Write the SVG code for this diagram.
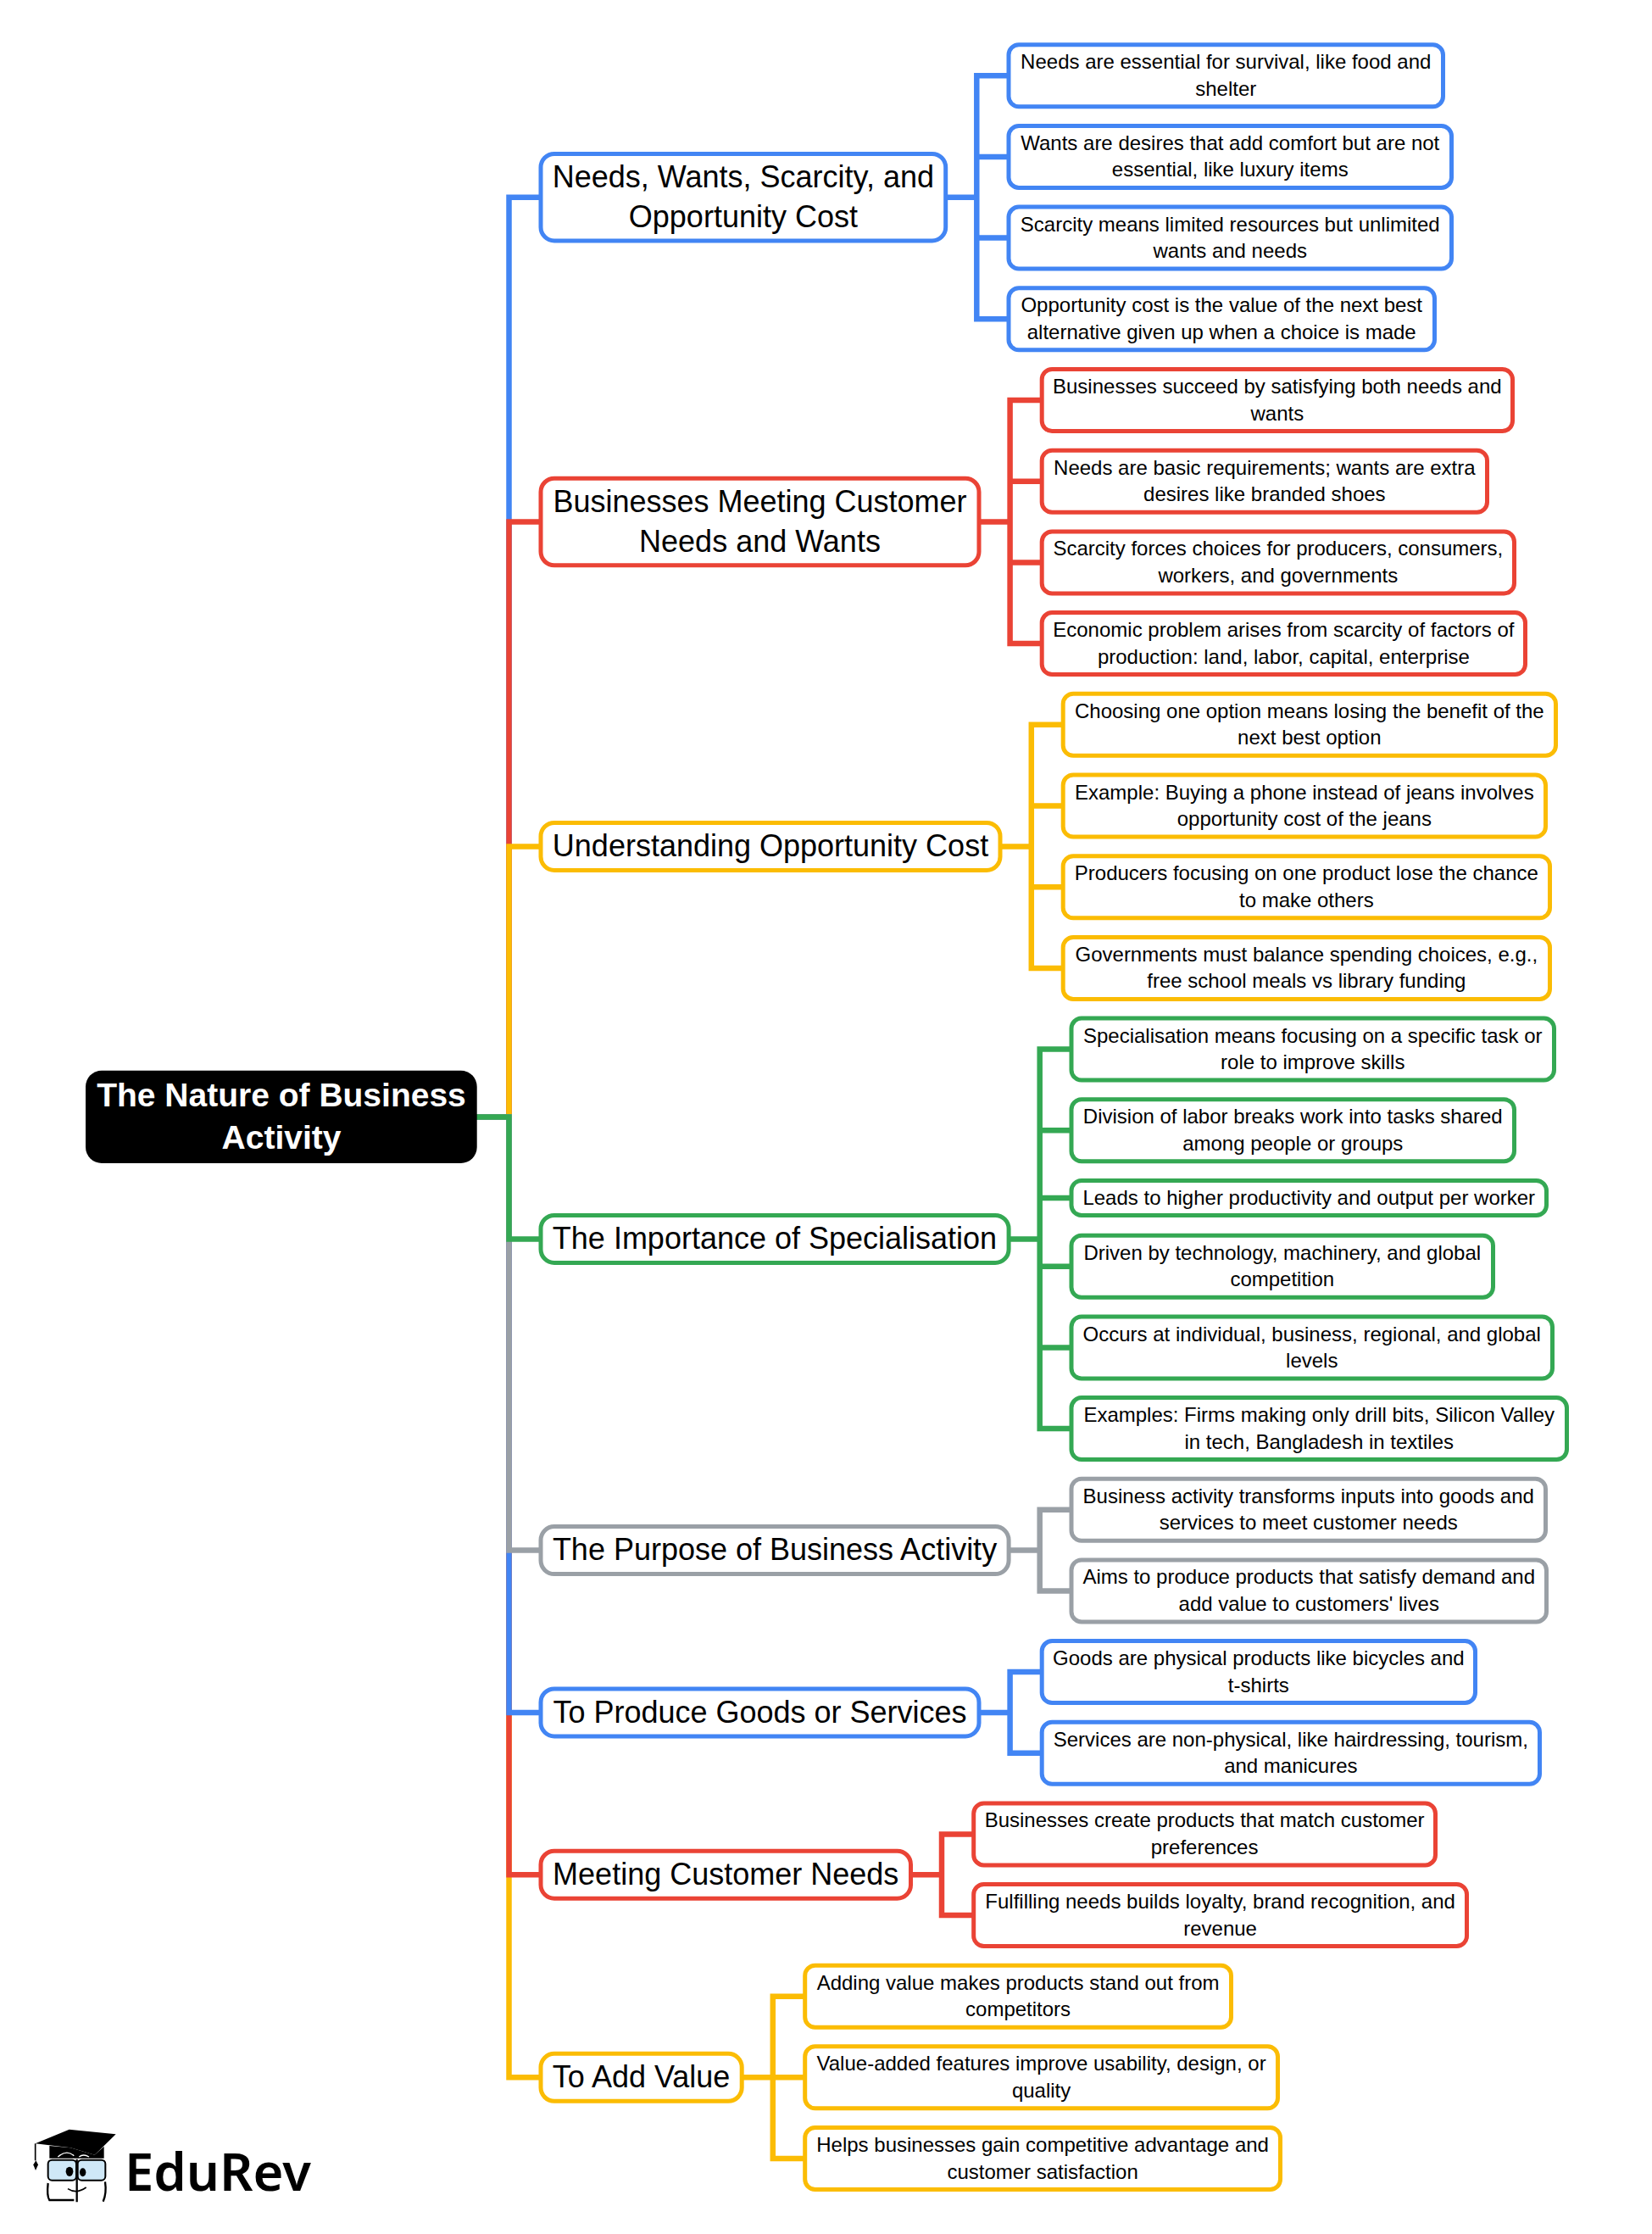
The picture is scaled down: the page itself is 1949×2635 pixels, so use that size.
<svg xmlns="http://www.w3.org/2000/svg" width="1949" height="2635" viewBox="0 0 1949 2635">
<style>
text{font-family:"Liberation Sans",Arial,sans-serif;text-anchor:middle;fill:#000}
.s{font-size:24px}.m{font-size:36px}.r{font-size:39px;font-weight:700;fill:#fff}
rect{fill:#fff;stroke-width:5}
.c path{fill:none;stroke-width:6.5;stroke-linejoin:miter}
.b{stroke:#4285F4}.e{stroke:#EA4335}.y{stroke:#FBBC04}.g{stroke:#34A853}.a{stroke:#9AA0A6}
</style>
<rect width="1949" height="2635" style="stroke:none"/>
<g id="connectors" class="c">
<path class="b" d="M562 1317.5H600.5V232.75H638"/>
<path class="e" d="M562 1317.5H600.5V615.5H638"/>
<path class="y" d="M562 1317.5H600.5V998.4H638"/>
<path class="y" d="M562 1317.5H600.5V2450.3H638"/>
<path class="e" d="M562 1317.5H600.5V2211.2H638"/>
<path class="b" d="M562 1317.5H600.5V2019.9H638"/>
<path class="a" d="M562 1317.5H600.5V1828.6H638"/>
<path class="g" d="M562 1317.5H600.5V1461.4H638"/>
<path class="b" d="M1115.7 232.75H1152.3V89.2H1190M1152.3 232.75V184.9H1190M1152.3 232.75V280.6H1190M1152.3 232.75V376.3H1190"/>
<path class="e" d="M1155 615.5H1191.6V472H1229.2M1191.6 615.5V567.7H1229.2M1191.6 615.5V663.4H1229.2M1191.6 615.5V759.1H1229.2"/>
<path class="y" d="M1180 998.4H1216.8V854.8H1254.2M1216.8 998.4V950.5H1254.2M1216.8 998.4V1046.2H1254.2M1216.8 998.4V1141.9H1254.2"/>
<path class="g" d="M1190.1 1461.4H1226.7V1237.6H1264M1226.7 1461.4V1333.3H1264M1226.7 1461.4V1413H1264M1226.7 1461.4V1493.8H1264M1226.7 1461.4V1589.5H1264M1226.7 1461.4V1685.1H1264"/>
<path class="a" d="M1190.1 1828.6H1226.7V1780.8H1264M1226.7 1828.6V1876.4H1264"/>
<path class="b" d="M1155 2019.9H1191.6V1972.1H1229.2M1191.6 2019.9V2067.7H1229.2"/>
<path class="e" d="M1074.5 2211.2H1111V2163.4H1148.7M1111 2211.2V2259H1148.7"/>
<path class="y" d="M875.2 2450.3H911.8V2354.7H949.7M911.8 2450.3H949.7M911.8 2450.3V2546H949.7"/>
</g>
<g id="root"><rect x="101" y="1262.7" width="461.7" height="109.3" rx="19" style="fill:#000;stroke:none"/><text class="r" x="332" y="1305">The Nature of Business</text><text class="r" x="332" y="1355">Activity</text></g>
<g id="n1"><rect class="b" x="638" y="181.4" width="477.7" height="102.6" rx="16"/><text class="m" x="876.9" y="221.1">Needs, Wants, Scarcity, and</text><text class="m" x="876.9" y="267.7">Opportunity Cost</text></g>
<g id="n2"><rect class="e" x="638" y="564.2" width="517" height="102.6" rx="16"/><text class="m" x="896.5" y="603.9">Businesses Meeting Customer</text><text class="m" x="896.5" y="650.5">Needs and Wants</text></g>
<g id="n3"><rect class="y" x="638" y="970.4" width="542" height="56" rx="16"/><text class="m" x="909" y="1010.1">Understanding Opportunity Cost</text></g>
<g id="n4"><rect class="g" x="638" y="1433.4" width="552.1" height="56" rx="16"/><text class="m" x="914" y="1473.1">The Importance of Specialisation</text></g>
<g id="n5"><rect class="a" x="638" y="1800.6" width="552.1" height="56" rx="16"/><text class="m" x="914" y="1840.3">The Purpose of Business Activity</text></g>
<g id="n6"><rect class="b" x="638" y="1991.9" width="517" height="56" rx="16"/><text class="m" x="896.5" y="2031.6">To Produce Goods or Services</text></g>
<g id="n7"><rect class="e" x="638" y="2183.2" width="436.5" height="56" rx="16"/><text class="m" x="856.2" y="2222.9">Meeting Customer Needs</text></g>
<g id="n8"><rect class="y" x="638" y="2422.3" width="237.2" height="56" rx="16"/><text class="m" x="756.6" y="2462">To Add Value</text></g>
<g id="n1a"><rect class="b" x="1190" y="52.7" width="512.5" height="73" rx="12"/><text class="s" x="1446.25" y="81.2">Needs are essential for survival, like food and</text><text class="s" x="1446.25" y="112.7">shelter</text></g>
<g id="n1b"><rect class="b" x="1190" y="148.4" width="522.5" height="73" rx="12"/><text class="s" x="1451.25" y="176.9">Wants are desires that add comfort but are not</text><text class="s" x="1451.25" y="208.4">essential, like luxury items</text></g>
<g id="n1c"><rect class="b" x="1190" y="244.1" width="522.5" height="73" rx="12"/><text class="s" x="1451.25" y="272.6">Scarcity means limited resources but unlimited</text><text class="s" x="1451.25" y="304.1">wants and needs</text></g>
<g id="n1d"><rect class="b" x="1190" y="339.8" width="502.5" height="73" rx="12"/><text class="s" x="1441.25" y="368.3">Opportunity cost is the value of the next best</text><text class="s" x="1441.25" y="399.8">alternative given up when a choice is made</text></g>
<g id="n2a"><rect class="e" x="1229.2" y="435.5" width="555.3" height="73" rx="12"/><text class="s" x="1506.85" y="464">Businesses succeed by satisfying both needs and</text><text class="s" x="1506.85" y="495.5">wants</text></g>
<g id="n2b"><rect class="e" x="1229.2" y="531.2" width="525.3" height="73" rx="12"/><text class="s" x="1491.85" y="559.7">Needs are basic requirements; wants are extra</text><text class="s" x="1491.85" y="591.2">desires like branded shoes</text></g>
<g id="n2c"><rect class="e" x="1229.2" y="626.9" width="557.3" height="73" rx="12"/><text class="s" x="1507.85" y="655.4">Scarcity forces choices for producers, consumers,</text><text class="s" x="1507.85" y="686.9">workers, and governments</text></g>
<g id="n2d"><rect class="e" x="1229.2" y="722.6" width="570.3" height="73" rx="12"/><text class="s" x="1514.35" y="751.1">Economic problem arises from scarcity of factors of</text><text class="s" x="1514.35" y="782.6">production: land, labor, capital, enterprise</text></g>
<g id="n3a"><rect class="y" x="1254.2" y="818.3" width="581.3" height="73" rx="12"/><text class="s" x="1544.85" y="846.8">Choosing one option means losing the benefit of the</text><text class="s" x="1544.85" y="878.3">next best option</text></g>
<g id="n3b"><rect class="y" x="1254.2" y="914" width="569.3" height="73" rx="12"/><text class="s" x="1538.85" y="942.5">Example: Buying a phone instead of jeans involves</text><text class="s" x="1538.85" y="974">opportunity cost of the jeans</text></g>
<g id="n3c"><rect class="y" x="1254.2" y="1009.7" width="574.3" height="73" rx="12"/><text class="s" x="1541.35" y="1038.2">Producers focusing on one product lose the chance</text><text class="s" x="1541.35" y="1069.7">to make others</text></g>
<g id="n3d"><rect class="y" x="1254.2" y="1105.4" width="574.3" height="73" rx="12"/><text class="s" x="1541.35" y="1133.9">Governments must balance spending choices, e.g.,</text><text class="s" x="1541.35" y="1165.4">free school meals vs library funding</text></g>
<g id="n4a"><rect class="g" x="1264" y="1201.1" width="569.5" height="73" rx="12"/><text class="s" x="1548.75" y="1229.6">Specialisation means focusing on a specific task or</text><text class="s" x="1548.75" y="1261.1">role to improve skills</text></g>
<g id="n4b"><rect class="g" x="1264" y="1296.8" width="522.5" height="73" rx="12"/><text class="s" x="1525.25" y="1325.3">Division of labor breaks work into tasks shared</text><text class="s" x="1525.25" y="1356.8">among people or groups</text></g>
<g id="n4c"><rect class="g" x="1264" y="1392.5" width="560.5" height="41" rx="12"/><text class="s" x="1544.25" y="1421">Leads to higher productivity and output per worker</text></g>
<g id="n4d"><rect class="g" x="1264" y="1457.3" width="497.5" height="73" rx="12"/><text class="s" x="1512.75" y="1485.8">Driven by technology, machinery, and global</text><text class="s" x="1512.75" y="1517.3">competition</text></g>
<g id="n4e"><rect class="g" x="1264" y="1553" width="567.5" height="73" rx="12"/><text class="s" x="1547.75" y="1581.5">Occurs at individual, business, regional, and global</text><text class="s" x="1547.75" y="1613">levels</text></g>
<g id="n4f"><rect class="g" x="1264" y="1648.6" width="584.5" height="73" rx="12"/><text class="s" x="1556.25" y="1677.1">Examples: Firms making only drill bits, Silicon Valley</text><text class="s" x="1556.25" y="1708.6">in tech, Bangladesh in textiles</text></g>
<g id="n5a"><rect class="a" x="1264" y="1744.3" width="559.5" height="73" rx="12"/><text class="s" x="1543.75" y="1772.8">Business activity transforms inputs into goods and</text><text class="s" x="1543.75" y="1804.3">services to meet customer needs</text></g>
<g id="n5b"><rect class="a" x="1264" y="1839.9" width="560.5" height="73" rx="12"/><text class="s" x="1544.25" y="1868.4">Aims to produce products that satisfy demand and</text><text class="s" x="1544.25" y="1899.9">add value to customers' lives</text></g>
<g id="n6a"><rect class="b" x="1229.2" y="1935.6" width="511.3" height="73" rx="12"/><text class="s" x="1484.85" y="1964.1">Goods are physical products like bicycles and</text><text class="s" x="1484.85" y="1995.6">t-shirts</text></g>
<g id="n6b"><rect class="b" x="1229.2" y="2031.2" width="587.3" height="73" rx="12"/><text class="s" x="1522.85" y="2059.7">Services are non-physical, like hairdressing, tourism,</text><text class="s" x="1522.85" y="2091.2">and manicures</text></g>
<g id="n7a"><rect class="e" x="1148.7" y="2126.9" width="544.8" height="73" rx="12"/><text class="s" x="1421.1" y="2155.4">Businesses create products that match customer</text><text class="s" x="1421.1" y="2186.9">preferences</text></g>
<g id="n7b"><rect class="e" x="1148.7" y="2222.5" width="581.8" height="73" rx="12"/><text class="s" x="1439.6" y="2251">Fulfilling needs builds loyalty, brand recognition, and</text><text class="s" x="1439.6" y="2282.5">revenue</text></g>
<g id="n8a"><rect class="y" x="949.7" y="2318.2" width="502.8" height="73" rx="12"/><text class="s" x="1201.1" y="2346.7">Adding value makes products stand out from</text><text class="s" x="1201.1" y="2378.2">competitors</text></g>
<g id="n8b"><rect class="y" x="949.7" y="2413.8" width="557.8" height="73" rx="12"/><text class="s" x="1228.6" y="2442.3">Value-added features improve usability, design, or</text><text class="s" x="1228.6" y="2473.8">quality</text></g>
<g id="n8c"><rect class="y" x="949.7" y="2509.5" width="560.8" height="73" rx="12"/><text class="s" x="1230.1" y="2538">Helps businesses gain competitive advantage and</text><text class="s" x="1230.1" y="2569.5">customer satisfaction</text></g>
<g id="logo">
<g transform="translate(0,2400) scale(0.33333)">
<path d="M125 385L245 335L410 352L335 425L250 400Z" fill="#000"/>
<path d="M175 393L250 400L335 425L368 395V437H175Z" fill="#000"/>
<path d="M205 432Q235 405 262 428M280 432Q295 420 315 432" fill="none" stroke="#fff" stroke-width="4"/>
<path d="M125 385V445" stroke="#000" stroke-width="5" fill="none"/>
<path d="M127 445L135 460L126 480L118 460Z" fill="#000"/>
<rect x="170" y="443" width="100" height="72" rx="14" style="fill:#cfe8f7;stroke:#000;stroke-width:6"/>
<rect x="275" y="443" width="98" height="72" rx="14" style="fill:#cfe8f7;stroke:#000;stroke-width:6"/>
<path d="M170 525Q165 570 175 585H262M372 520Q378 560 365 590M272 440V592" fill="none" stroke="#000" stroke-width="7"/>
<ellipse cx="246" cy="484" rx="13" ry="17" fill="#000"/><ellipse cx="293" cy="487" rx="11" ry="15" fill="#000"/>
<path d="M240 545Q270 565 305 540" fill="none" stroke="#000" stroke-width="5"/>
</g>
<text x="147" y="2584" style="font-family:'Noto Sans',sans-serif;font-size:61.5px;font-weight:600;text-anchor:start">EduRev</text>
</g>
</svg>
